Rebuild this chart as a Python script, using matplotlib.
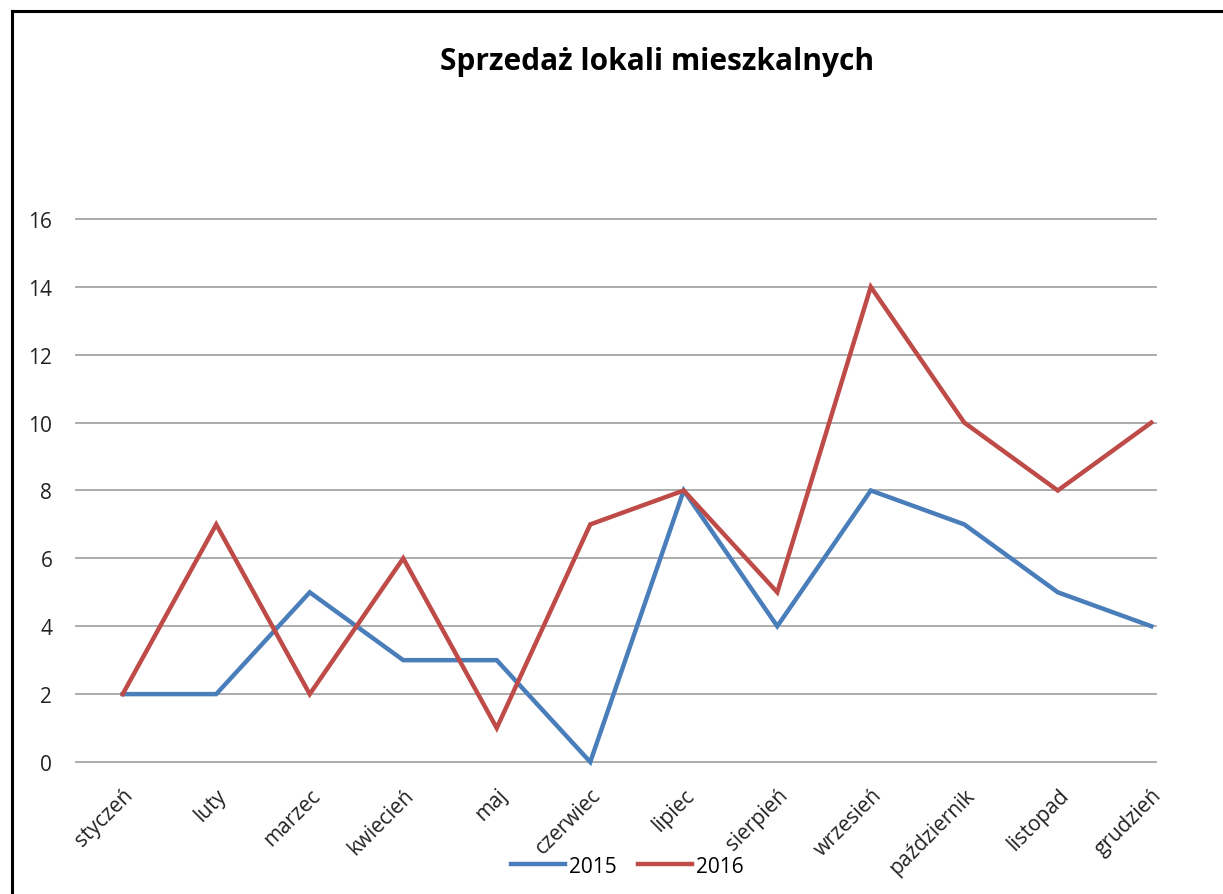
import matplotlib.pyplot as plt
from matplotlib.lines import Line2D

# data
months = ["styczeń", "luty", "marzec", "kwiecień", "maj", "czerwiec",
          "lipiec", "sierpień", "wrzesień", "październik", "listopad", "grudzień"]
sales_2015 = [2, 2, 5, 3, 3, 0, 8, 4, 8, 7, 5, 4]
sales_2016 = [2, 7, 2, 6, 1, 7, 8, 5, 14, 10, 8, 10]
y_ticks = [0, 2, 4, 6, 8, 10, 12, 14, 16]

BLUE = "#4a7ebb"
RED = "#be4b48"

plt.rcParams["font.family"] = ["Open Sans", "DejaVu Sans"]

fig = plt.figure(figsize=(12.23, 8.95), dpi=100)
ax = fig.add_axes([0.0621, 0.1475, 0.8831, 0.6067])

x = list(range(len(months)))
ax.plot(x, sales_2015, color=BLUE, lw=3.2, label="2015", clip_on=False,
        solid_joinstyle="miter", zorder=3)
ax.plot(x, sales_2016, color=RED, lw=3.2, label="2016", clip_on=False,
        solid_joinstyle="miter", zorder=3)

ax.set_xlim(-0.5, 11.05)
ax.set_ylim(0, 16)
ax.set_yticks(y_ticks)
ax.set_yticklabels([str(v) for v in y_ticks], fontsize=15, color="#222222")
ax.set_xticks(x)
ax.set_xticklabels(months, rotation=45, ha="right", rotation_mode="anchor",
                   fontsize=15, color="#222222")
ax.tick_params(axis="both", length=0)
ax.tick_params(axis="y", pad=17)
ax.tick_params(axis="x", pad=16)

for v in y_ticks:
    ax.axhline(v, color="#a6a6a6", lw=1.3, zorder=1, clip_on=False)
for s in ax.spines.values():
    s.set_visible(False)

fig.text(0.537, 0.931, "Sprzedaż lokali mieszkalnych", ha="center", va="center",
         fontsize=21.5, fontweight="bold", color="black")

handles = [Line2D([], [], color=BLUE, lw=3.2), Line2D([], [], color=RED, lw=3.2)]
fig.legend(handles, ["2015", "2016"], loc="center", bbox_to_anchor=(0.513, 0.031),
           ncol=2, frameon=False, fontsize=15, handlelength=2.6,
           handletextpad=0.2, columnspacing=1.0)

# partial chart-area frame (left and top edges)
fig.add_artist(Line2D([0.0098, 0.0098], [0, 0.9866], color="black", lw=2.2,
                      transform=fig.transFigure))
fig.add_artist(Line2D([0.0098, 1.0], [0.9866, 0.9866], color="black", lw=2.2,
                      transform=fig.transFigure))

fig.savefig("out.png", dpi=100, facecolor="white")
